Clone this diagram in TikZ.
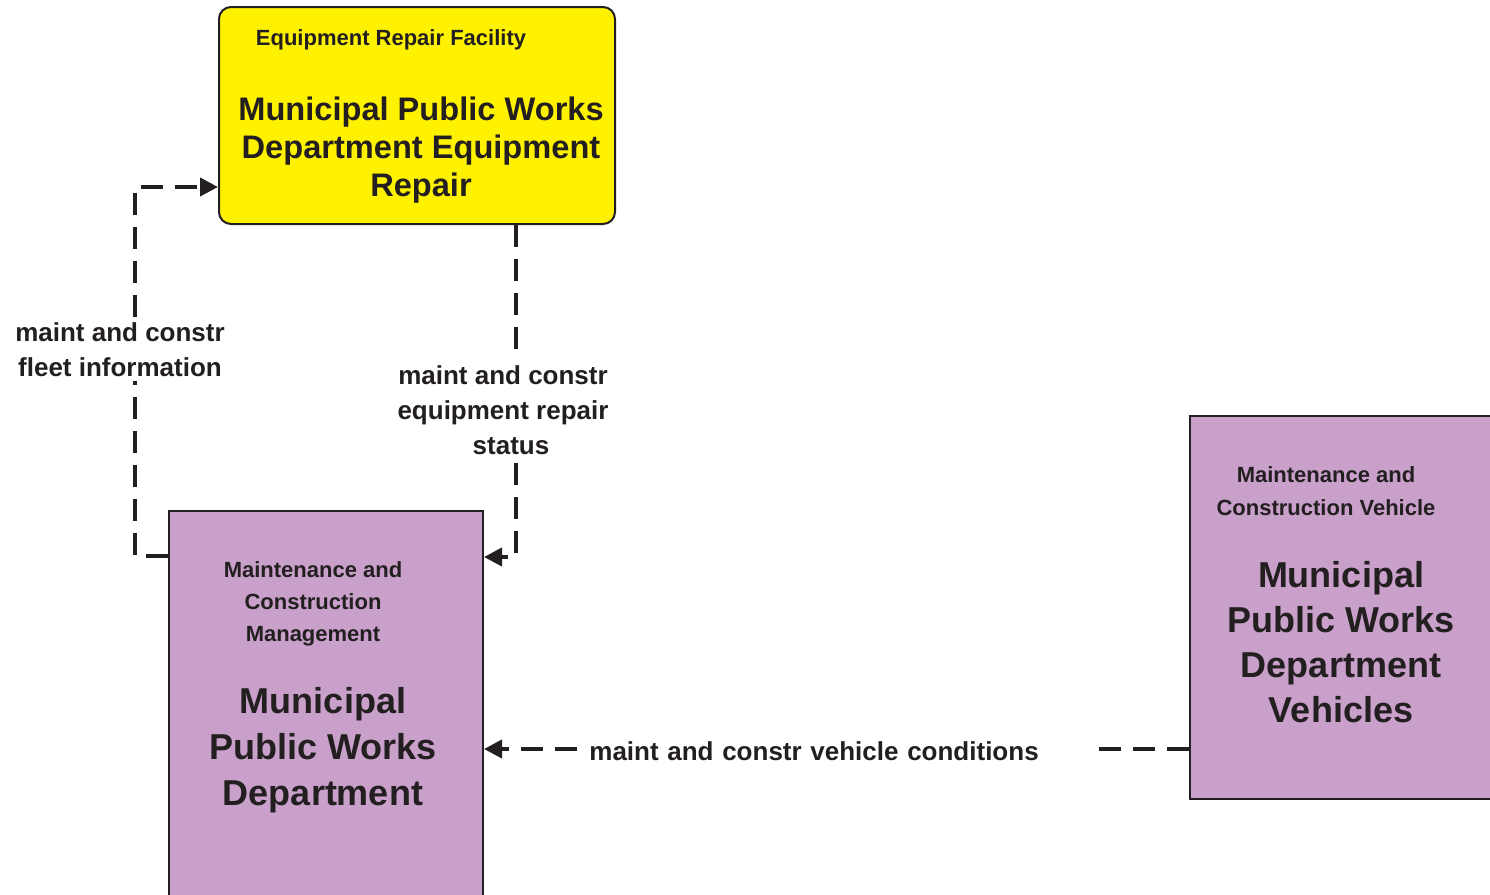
\documentclass[tikz,border=0pt]{standalone}
\usepackage{fontspec}
\setmainfont{Liberation Sans}
\usetikzlibrary{arrows.meta}
\definecolor{inkdark}{RGB}{35,31,32}
\definecolor{repairyellow}{RGB}{255,242,0}
\definecolor{mcpurple}{RGB}{200,160,202}

\begin{document}
\begin{tikzpicture}[x=0.5pt,y=-0.5pt,
  flow/.style={draw=inkdark,line width=2pt,dash pattern=on 11pt off 6pt,
    -{Triangle[length=9pt,width=9pt]}},
  facility/.style={draw=inkdark,line width=1pt,inner sep=0pt},
  boxtitle/.style={text=inkdark,font=\bfseries\fontsize{11}{16}\selectfont,align=center},
  boxname/.style={text=inkdark,font=\bfseries\fontsize{18}{23}\selectfont,align=center},
  flowlabel/.style={text=inkdark,fill=white,font=\bfseries\fontsize{13}{17.5}\selectfont,align=center,inner sep=2pt}]
\useasboundingbox (0,0) rectangle (1490,895);
\clip (0,0) rectangle (1490,895);

% physical objects
\node[facility,rectangle,rounded corners=6pt,fill=repairyellow,
  minimum width=198pt,minimum height=108.5pt] (repair) at (417,115.5) {};
\node[facility,rectangle,fill=mcpurple,minimum width=157pt,minimum height=260pt] (mgmt) at (326,771) {};
\node[facility,rectangle,fill=mcpurple,minimum width=185pt,minimum height=191.5pt] (vehicles) at (1375,607.5) {};

% texts in the boxes
\node[boxtitle] (repairtitle) at (391,40) {Equipment Repair Facility};
\node[boxname,font=\bfseries\fontsize{16.3}{19}\selectfont] (repairname) at (421,150)
  {Municipal Public Works\\Department Equipment\\Repair};
\node[boxtitle] (mgmttitle) at (313,604) {Maintenance and\\Construction\\Management};
\node[boxname] (mgmtname) at (323,750) {Municipal\\Public Works\\Department};
\node[boxtitle,font=\bfseries\fontsize{11}{16.5}\selectfont] (vehtitle) at (1326,491)
  {Maintenance and\\Construction Vehicle};
\node[boxname,font=\bfseries\fontsize{18}{22.5}\selectfont] (vehname) at (1341,642)
  {Municipal\\Public Works\\Department\\Vehicles};

% flows
\coordinate (fleetbend) at (135,187);
\coordinate (statusbend) at (516,557);
\coordinate (condrow) at (0,749);
\draw[flow] ([yshift=-23pt]mgmt.north west) -| (fleetbend) -- (fleetbend -| repair.west);
\draw[flow] (repair.south -| statusbend) -- (statusbend) -- (statusbend -| mgmt.east);
\draw[flow] (vehicles.west |- condrow) -- (mgmt.east |- condrow);

\node[flowlabel] (fleetlbl) at (120,350) {maint and constr\\fleet information};
\node[flowlabel] (statuslbl) at (503,410) {maint and constr\\equipment repair\\\hspace*{8pt}status};
\node[flowlabel,anchor=west,text width=250pt,align=left,inner xsep=2.5pt] (condlbl) at (584,751)
  {maint and constr vehicle conditions};
\end{tikzpicture}
\end{document}
